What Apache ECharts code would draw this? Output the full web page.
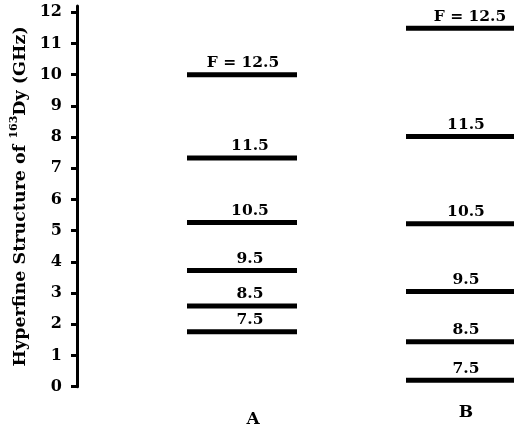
<!DOCTYPE html>
<html>
<head>
<meta charset="utf-8">
<script src="https://cdn.jsdelivr.net/npm/echarts@6/dist/echarts.min.js"></script>
<style>html,body{margin:0;padding:0;background:#fff}#c{width:514px;height:432px}</style>
</head>
<body>
<div id="c"></div>
<script>
var categories = ['A', 'B'];
var levelNames = ['7.5', '8.5', '9.5', '10.5', '11.5', 'F = 12.5'];
var valuesA = [1.76, 2.59, 3.72, 5.26, 7.33, 10.0];
var valuesB = [0.21, 1.44, 3.05, 5.22, 8.02, 11.49];
var yTicks = [0, 1, 2, 3, 4, 5, 6, 7, 8, 9, 10, 11, 12];

var FONT = 'DejaVu Serif';

function buildData(catIdx, vals, dx, dxF) {
  return vals.map(function (v, i) {
    var isF = i === levelNames.length - 1;
    return {
      value: [catIdx, v],
      label: { formatter: levelNames[i], offset: [isF ? dxF : dx, 0] }
    };
  });
}

var labelStyle = { show: true, position: 'top', distance: 1, color: '#000', fontFamily: FONT, fontWeight: 'bold', fontSize: 15.5 };

var chart = echarts.init(document.getElementById('c'));
chart.setOption({
  animation: false,
  grid: { left: 242, top: 6, width: 219, height: 380.7 },
  xAxis: {
    type: 'category',
    data: [
      { value: categories[0], textStyle: { padding: [7, 0, 0, 22] } },
      { value: categories[1], textStyle: { padding: [0, 0, 0, 10] } }
    ],
    boundaryGap: false,
    axisLine: { show: false },
    axisTick: { show: false },
    axisLabel: { margin: 17, color: '#000', fontFamily: FONT, fontWeight: 'bold', fontSize: 17 },
    splitLine: { show: false }
  },
  yAxis: {
    type: 'value',
    min: 0,
    max: 12.2,
    offset: 165,
    name: '{a|Hyperfine Structure of }{s|163}{a|Dy (GHz)}',
    nameLocation: 'middle',
    nameGap: 46,
    nameTextStyle: {
      rich: {
        a: { fontFamily: FONT, fontWeight: 'bold', fontSize: 17.5, color: '#000', lineHeight: 22 },
        s: { fontFamily: FONT, fontWeight: 'bold', fontSize: 11, color: '#000', verticalAlign: 'top', lineHeight: 22 }
      }
    },
    axisLine: { show: true, lineStyle: { color: '#000', width: 3 } },
    axisTick: { show: true, length: 6, lineStyle: { color: '#000', width: 3 }, customValues: yTicks },
    axisLabel: { margin: 15, color: '#000', fontFamily: FONT, fontWeight: 'bold', fontSize: 16, customValues: yTicks },
    splitLine: { show: false }
  },
  series: [
    {
      type: 'scatter',
      symbol: 'rect',
      symbolSize: [110, 5],
      itemStyle: { color: '#000', opacity: 1 },
      label: labelStyle,
      data: buildData(0, valuesA, 8, 1)
    },
    {
      type: 'scatter',
      symbol: 'rect',
      symbolSize: [110, 5],
      itemStyle: { color: '#000', opacity: 1 },
      label: labelStyle,
      data: buildData(1, valuesB, 5, 9)
    }
  ]
});
</script>
</body>
</html>
